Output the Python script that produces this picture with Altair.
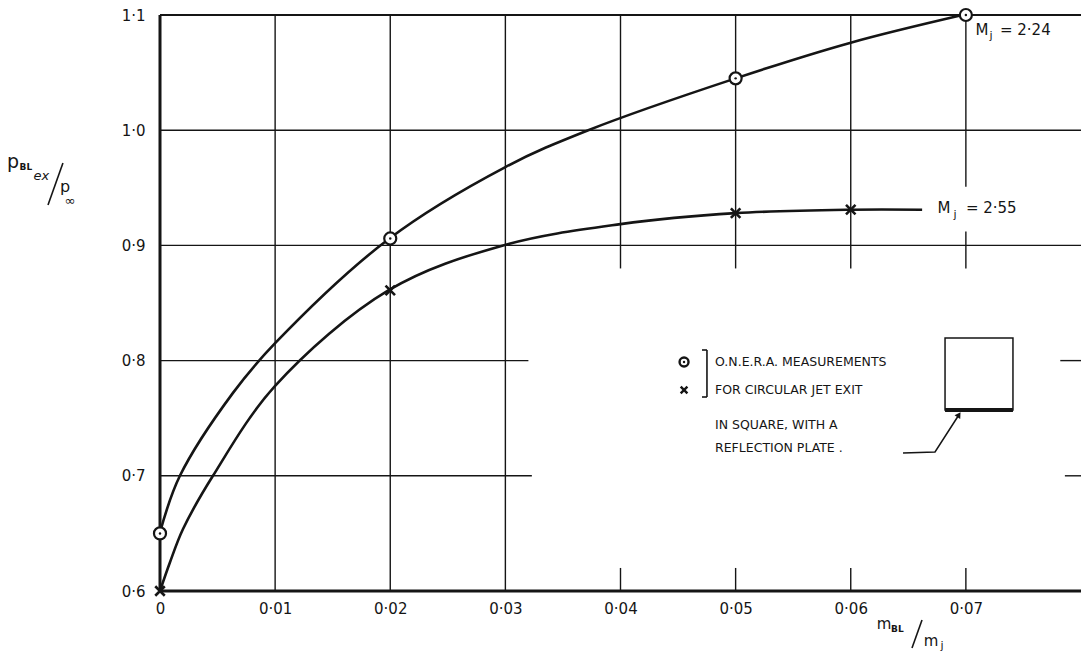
import altair as alt
import pandas as pd

# ---------------- values ----------------
x_ticks = [0, 0.01, 0.02, 0.03, 0.04, 0.05, 0.06, 0.07]
y_ticks = [0.6, 0.7, 0.8, 0.9, 1.0, 1.1]

# O.N.E.R.A. measurements
circle_x = [0.0, 0.02, 0.05, 0.07]            # M_j = 2.24
circle_y = [0.650, 0.906, 1.045, 1.100]
cross_x = [0.0, 0.02, 0.05, 0.06]             # M_j = 2.55
cross_y = [0.600, 0.861, 0.928, 0.931]

# faired curves as drawn through the measurements
c224_x = [0.0, 0.00173, 0.00634, 0.0100, 0.0199, 0.0300, 0.0372, 0.0500, 0.0600, 0.0697]
c224_y = [0.6509, 0.700, 0.772, 0.8151, 0.9058, 0.968, 1.000, 1.045, 1.076, 1.100]
c255_x = [0.0, 0.00086, 0.0020, 0.0046, 0.0100, 0.0199, 0.0298, 0.0400, 0.0500, 0.0600, 0.0662]
c255_y = [0.600, 0.6247, 0.6538, 0.700, 0.7780, 0.8613, 0.900, 0.9185, 0.928, 0.931, 0.931]

# hand-drawn grid (broken around the notes)
vgrid_x = [0.01, 0.02, 0.03, 0.04, 0.05, 0.06, 0.04, 0.05, 0.06, 0.07, 0.07, 0.07]
vgrid_y0 = [0.6, 0.6, 0.6, 0.88, 0.88, 0.88, 0.6, 0.6, 0.6, 0.951, 0.88, 0.6]
vgrid_y1 = [1.1, 1.1, 1.1, 1.1, 1.1, 1.1, 0.62, 0.62, 0.62, 1.1, 0.912, 0.62]
hgrid_y = [1.0, 0.9, 0.8, 0.8, 0.7, 0.7]
hgrid_x0 = [0.0, 0.0, 0.0, 0.0782, 0.0, 0.0786]
hgrid_x1 = [0.08, 0.08, 0.032, 0.08, 0.0323, 0.08]

# ---------------- styling ----------------
FONT = "DejaVu Sans"
INK = "#151515"
XMIN, XMAX = 0.0, 0.08
YMIN, YMAX = 0.6, 1.1

xs = alt.Scale(domain=[XMIN, XMAX], nice=False, zero=False)
ys = alt.Scale(domain=[YMIN, YMAX], nice=False, zero=False)

x_axis = alt.Axis(
    values=x_ticks,
    labelExpr="datum.value == 0 ? '0' : replace(format(datum.value, '.2f'), '.', '·')",
    domain=False, ticks=False, grid=False, title=None,
    labelFont=FONT, labelFontSize=15, labelColor=INK, labelPadding=10,
    labelFlush=False, labelOverlap=False,
)
y_axis = alt.Axis(
    values=y_ticks,
    labelExpr="replace(format(datum.value, '.1f'), '.', '·')",
    domain=False, ticks=False, grid=False, title=None,
    labelFont=FONT, labelFontSize=15, labelColor=INK, labelPadding=15,
    labelFlush=False, labelOverlap=False,
)


def X(field="x"):
    return alt.X(f"{field}:Q", scale=xs, axis=x_axis)


def Y(field="y"):
    return alt.Y(f"{field}:Q", scale=ys, axis=y_axis)


def segs(x0, y0, x1, y1, width, color=INK):
    df = pd.DataFrame({"x": x0, "y": y0, "x2": x1, "y2": y1})
    return alt.Chart(df).mark_rule(color=color, strokeWidth=width).encode(
        x=X(), y=Y(), x2="x2:Q", y2="y2:Q"
    )


def label(text, x, y, size=14, align="center", **kw):
    df = pd.DataFrame({"x": [x], "y": [y], "t": [text]})
    return alt.Chart(df).mark_text(
        font=FONT, fontSize=size, align=align, baseline="middle", color=INK, **kw
    ).encode(x=X(), y=Y(), text="t:N")


layers = []

# grid
layers.append(segs(vgrid_x, vgrid_y0, vgrid_x, vgrid_y1, 1.4))
layers.append(segs(hgrid_x0, hgrid_y, hgrid_x1, hgrid_y, 1.4))
# frame
layers.append(segs([XMIN], [YMAX], [XMAX], [YMAX], 2.0))
layers.append(segs([XMIN], [YMIN], [XMAX], [YMIN], 3.0))
layers.append(segs([XMIN], [YMIN], [XMIN], [YMAX], 3.0))

# curves
curves = pd.concat([
    pd.DataFrame({"x": c224_x, "y": c224_y, "s": "2.24"}),
    pd.DataFrame({"x": c255_x, "y": c255_y, "s": "2.55"}),
])
layers.append(
    alt.Chart(curves).mark_line(color=INK, strokeWidth=2.6, interpolate="catmull-rom")
    .encode(x=X(), y=Y(), detail="s:N", order="x:Q")
)

# markers
circ = pd.DataFrame({"x": circle_x, "y": circle_y})
layers.append(
    alt.Chart(circ).mark_point(shape="circle", size=145, filled=True, fill="white",
                               stroke=INK, strokeWidth=2.2, opacity=1)
    .encode(x=X(), y=Y())
)
layers.append(
    alt.Chart(circ).mark_point(shape="circle", size=6, filled=True, color=INK, opacity=1)
    .encode(x=X(), y=Y())
)
XPATH = "M-1,-1L1,1M-1,1L1,-1"
crs = pd.DataFrame({"x": cross_x, "y": cross_y})
layers.append(
    alt.Chart(crs).mark_point(shape=XPATH, size=90, filled=False, stroke=INK,
                              strokeWidth=2.6, opacity=1)
    .encode(x=X(), y=Y())
)

# curve labels
layers.append(label("M", 0.0714, 1.087, 15))
layers.append(label("j", 0.07218, 1.0815, 11))
layers.append(label("= 2·24", 0.07296, 1.087, 15, align="left"))
layers.append(label("M", 0.0681, 0.9325, 15))
layers.append(label("j", 0.06906, 0.9262, 11))
layers.append(label("= 2·55", 0.0700, 0.9325, 15, align="left"))

# note with symbols
layers.append(
    alt.Chart(pd.DataFrame({"x": [0.04552], "y": [0.7988]}))
    .mark_point(shape="circle", size=80, filled=True, fill="white", stroke=INK,
                strokeWidth=2.4, opacity=1)
    .encode(x=X(), y=Y())
)
layers.append(
    alt.Chart(pd.DataFrame({"x": [0.04552], "y": [0.7988]}))
    .mark_point(shape="circle", size=6, filled=True, color=INK, opacity=1)
    .encode(x=X(), y=Y())
)
layers.append(
    alt.Chart(pd.DataFrame({"x": [0.04552], "y": [0.7745]}))
    .mark_point(shape=XPATH, size=45, filled=False, stroke=INK, strokeWidth=2.4, opacity=1)
    .encode(x=X(), y=Y())
)
# bracket
layers.append(segs([0.04708, 0.04751, 0.04751], [0.8092, 0.8092, 0.7684],
                   [0.04751, 0.04751, 0.04708], [0.8092, 0.7684, 0.7684], 1.6))
layers.append(label("O.N.E.R.A. MEASUREMENTS", 0.04821, 0.7988, 12.5, align="left"))
layers.append(label("FOR CIRCULAR JET EXIT", 0.04821, 0.7745, 12.5, align="left"))
layers.append(label("IN SQUARE, WITH A", 0.04821, 0.7441, 12.5, align="left"))
layers.append(label("REFLECTION PLATE .", 0.04821, 0.7241, 12.5, align="left"))

# sketch of the square exit with reflection plate
layers.append(
    alt.Chart(pd.DataFrame({"x": [0.06819], "y": [0.7571], "x2": [0.07409], "y2": [0.8196]}))
    .mark_rect(fill="white", stroke=INK, strokeWidth=1.5)
    .encode(x=X(), y=Y(), x2="x2:Q", y2="y2:Q")
)
layers.append(segs([0.06819], [0.7571], [0.07409], [0.7571], 4.0))
# leader with arrow
leader = pd.DataFrame({"x": [0.06454, 0.06732, 0.06940], "y": [0.7198, 0.7207, 0.7530], "o": [0, 1, 2]})
layers.append(
    alt.Chart(leader).mark_line(color=INK, strokeWidth=1.5)
    .encode(x=X(), y=Y(), order="o:Q")
)
layers.append(
    alt.Chart(pd.DataFrame({"x": [0.06940], "y": [0.7530]}))
    .mark_point(shape="triangle-up", size=45, filled=True, color=INK, angle=33, opacity=1)
    .encode(x=X(), y=Y())
)

# y-axis title  p_BLex / p_inf
layers.append(label("p", -0.01277, 0.972, 19))
layers.append(label("BL", -0.01165, 0.968, 9, fontWeight="bold"))
layers.append(label("ex", -0.01030, 0.960, 13, fontStyle="italic"))
layers.append(segs([-0.00973], [0.935], [-0.00843], [0.9715], 1.6))
layers.append(label("p", -0.00825, 0.951, 16))
layers.append(label("∞", -0.00782, 0.9385, 13))

# x-axis title  m_BL / m_j
layers.append(label("m", 0.06289, 0.5712, 15))
layers.append(label("BL", 0.06405, 0.5672, 9, fontWeight="bold"))
layers.append(segs([0.06532], [0.5505], [0.06619], [0.5748], 1.6))
layers.append(label("m", 0.06697, 0.5566, 15))
layers.append(label("j", 0.06793, 0.5520, 11))

chart = (
    alt.layer(*layers)
    .properties(
        width=921, height=576,
        autosize=alt.AutoSizeParams(type="none"),
        padding={"left": 160, "top": 15, "right": 0, "bottom": 66},
        background="white",
    )
    .configure_view(stroke=None)
)

chart.save("out.html", embed_options={"renderer": "svg", "actions": False})
